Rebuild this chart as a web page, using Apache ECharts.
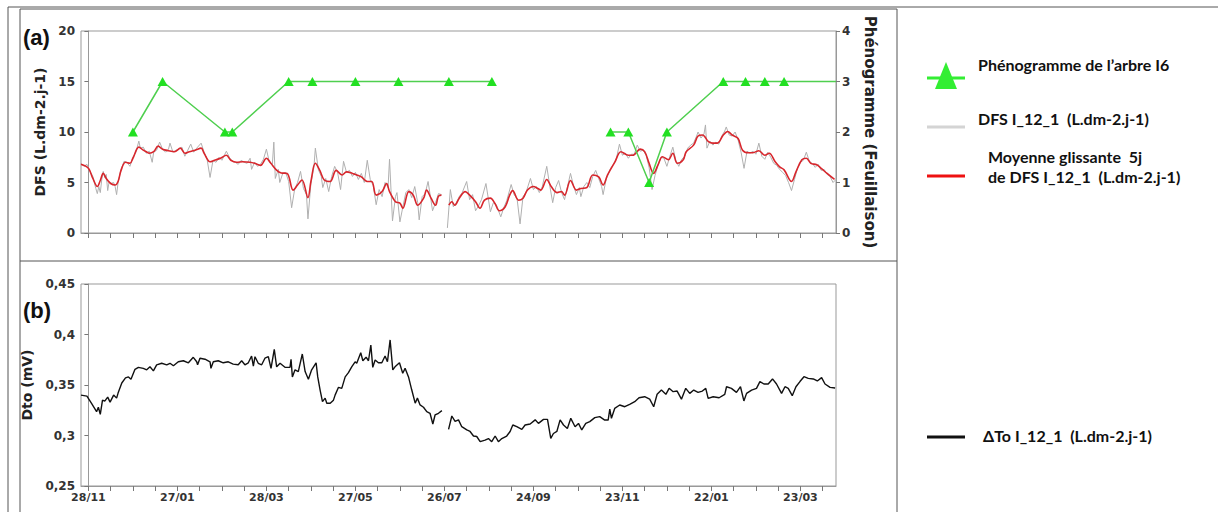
<!DOCTYPE html>
<html>
<head>
<meta charset="utf-8">
<script src="https://cdn.jsdelivr.net/npm/echarts@6/dist/echarts.min.js"></script>
<style>
  html, body { margin: 0; padding: 0; background: #fff; }
  #chart { width: 1218px; height: 512px; }
</style>
</head>
<body>
<div id="chart"></div>
<script>
// x = days since 28/11
const tickDays = [0, 15, 30, 45, 60, 75, 90, 105, 120, 135, 150, 165, 180, 195, 210, 225, 240, 255, 270, 285, 300, 315, 330, 345, 360, 375, 390, 405, 420, 435, 450, 465, 480, 495];
const labelDays = [0, 60, 120, 180, 240, 300, 360, 420, 480];
const dateLabels = ['28/11', '27/01', '28/03', '27/05', '26/07', '24/09', '23/11', '22/01', '23/03'];
const dfsTicks = ['0', '5', '10', '15', '20'];
const phenoTicks = ['0', '1', '2', '3', '4'];
const dtoTicks = ['0,25', '0,3', '0,35', '0,4', '0,45'];

// phénogramme (null = pas d'observation)
const phenoDays = [30, 50, 92, 97, 135, 151, 180, 209, 243, 272, null, 352, 364, 378, 390, 428, 443, 456, 469, 504];
const phenoStage = [2, 3, 2, 2, 3, 3, 3, 3, 3, 3, null, 2, 2, 1, 2, 3, 3, 3, 3, 3];

// DFS brut [jour, valeur]
const dfsRaw = [[-5,6.9],[-3,6.6],[-1,6.8],[1,6.1],[3,5.6],[5,4.4],[6,3.9],[7,4.6],[8,4.0],[9,5.3],[10,6.1],[11,5.5],[12,5.8],[13,4.2],[14,5.1],[15,4.9],[17,5.0],[18,4.6],[19,3.8],[20,5.0],[22,6.3],[24,7.1],[26,7.0],[28,6.6],[30,7.5],[32,8.0],[34,9.1],[35,8.4],[37,8.5],[39,7.9],[41,8.1],[43,7.0],[44,8.0],[46,8.2],[48,9.0],[50,8.3],[52,8.0],[54,8.3],[55,8.9],[57,8.0],[59,8.2],[61,8.3],[63,8.5],[65,7.6],[67,8.2],[69,8.8],[71,8.0],[73,8.4],[76,8.9],[78,8.0],[80,7.3],[82,5.5],[84,7.2],[86,7.0],[88,7.5],[90,7.2],[93,8.1],[95,7.5],[97,7.1],[99,7.0],[101,6.8],[103,7.2],[105,7.0],[107,6.9],[109,7.4],[110,6.3],[112,7.0],[114,6.6],[116,6.8],[118,7.3],[120,8.3],[122,7.0],[124,6.8],[125,9.0],[126,5.4],[128,6.3],[129,5.0],[131,5.9],[133,6.0],[135,5.1],[137,2.5],[139,4.3],[141,5.0],[143,6.1],[145,4.4],[147,3.8],[148,1.4],[150,4.9],[152,6.5],[153,8.4],[155,6.3],[157,5.6],[158,4.5],[160,5.4],[162,4.1],[164,5.6],[166,6.6],[168,6.0],[170,4.3],[172,7.1],[174,6.0],[176,6.2],[178,5.6],[180,6.0],[182,5.3],[184,5.9],[186,5.0],[188,7.2],[190,5.3],[192,4.7],[194,2.8],[196,4.3],[198,3.6],[200,5.0],[202,4.5],[203,7.3],[205,1.2],[207,3.6],[208,4.0],[210,1.1],[212,2.6],[214,4.0],[216,4.3],[218,3.5],[220,4.6],[222,3.0],[223,1.3],[225,3.6],[227,3.9],[229,5.1],[231,3.2],[232,2.2],[234,3.0],[236,3.9],[238,3.8],[240,'-'],[242,0.5],[244,4.3],[246,2.6],[248,3.0],[250,3.6],[252,4.0],[255,5.1],[257,3.3],[259,3.8],[261,2.2],[263,2.7],[265,3.3],[268,4.9],[271,2.1],[273,3.0],[275,2.8],[278,1.6],[280,2.5],[282,3.2],[285,4.8],[287,3.8],[289,3.4],[291,0.9],[293,3.6],[295,4.0],[298,5.4],[300,4.3],[302,4.6],[304,4.0],[306,4.6],[309,6.6],[311,4.7],[313,3.0],[315,4.5],[317,5.2],[319,4.0],[321,3.3],[323,4.6],[325,5.9],[327,4.7],[329,3.8],[331,4.5],[332,3.6],[334,4.6],[336,5.0],[338,4.5],[340,5.6],[342,6.2],[344,5.4],[346,4.6],[347,3.8],[349,5.3],[352,6.4],[354,6.8],[356,7.4],[358,8.8],[360,7.7],[362,7.9],[364,7.4],[366,7.8],[368,7.8],[370,8.7],[372,8.1],[374,8.2],[376,7.7],[378,6.5],[380,4.3],[382,5.7],[384,6.7],[386,7.5],[388,7.4],[390,6.6],[392,7.6],[394,8.5],[396,7.2],[398,6.6],[400,7.3],[402,7.6],[404,8.4],[406,8.7],[408,8.9],[410,9.6],[411,10.0],[413,9.4],[415,9.8],[416,10.7],[417,8.4],[419,9.1],[421,8.7],[423,9.0],[425,8.8],[427,9.6],[429,10.1],[430,10.5],[432,9.7],[434,9.6],[436,10.0],[438,9.2],[440,8.0],[442,6.4],[444,8.1],[446,7.9],[448,8.1],[450,7.8],[452,8.9],[454,7.6],[456,7.3],[458,8.0],[460,7.5],[462,6.9],[464,6.7],[466,6.3],[468,6.0],[470,5.7],[472,5.0],[474,4.2],[476,5.3],[478,6.4],[480,7.0],[482,7.2],[484,8.0],[486,7.1],[488,6.9],[490,6.5],[492,6.8],[494,6.2],[496,6.3],[498,5.8],[500,5.6],[502,5.0],[504,5.3]];

// moyenne glissante 5j
const dfsMean = [[-5,6.8],[0,6.4],[3,5.4],[6,4.6],[8,5.2],[10,5.9],[12,5.4],[15,4.9],[18,4.75],[20,5.1],[22,6.2],[25,7.0],[28,6.9],[30,7.4],[34,8.5],[37,8.2],[39,8.05],[41,7.9],[44,8.05],[47,8.6],[50,8.3],[54,8.15],[58,8.05],[62,8.4],[65,7.9],[68,8.05],[72,8.2],[76,8.4],[78,7.9],[82,7.05],[85,7.2],[89,7.4],[93,7.7],[96,7.2],[100,7.0],[104,7.05],[109,7.0],[112,6.9],[116,6.7],[120,7.4],[123,6.9],[127,6.2],[130,5.95],[134,5.9],[138,4.25],[141,4.75],[144,5.25],[148,3.5],[150,5.1],[153,6.9],[156,6.2],[159,5.25],[163,5.1],[167,6.2],[171,5.75],[174,6.05],[178,5.9],[181,5.75],[184,5.55],[188,5.1],[191,5.1],[194,3.75],[198,4.1],[201,4.9],[203,4.1],[207,3.1],[210,2.95],[212,2.45],[216,4.1],[219,3.75],[222,2.75],[226,3.45],[228,4.25],[231,3.45],[234,2.75],[236,3.65],[238,3.75],[240,'-'],[243,2.75],[245,3.1],[247,2.75],[250,3.45],[254,4.1],[257,3.75],[261,3.1],[264,2.45],[267,3.25],[271,3.45],[274,2.95],[277,2.2],[281,2.6],[284,3.75],[286,4.2],[290,3.25],[293,3.45],[296,4.25],[300,4.6],[303,4.4],[305,4.25],[309,5.3],[312,4.6],[316,4.0],[319,4.1],[321,3.75],[325,5.2],[329,4.25],[332,4.4],[336,4.5],[340,5.75],[344,5.55],[347,4.75],[350,5.75],[355,7.05],[359,8.05],[364,7.7],[367,7.7],[372,8.3],[375,8.05],[378,6.9],[381,5.9],[384,6.75],[387,7.55],[391,7.25],[394,7.9],[397,6.9],[401,7.25],[403,8.05],[408,8.7],[411,9.6],[414,9.7],[418,9.05],[421,8.9],[424,8.9],[428,9.7],[431,10.05],[434,9.7],[438,9.35],[441,8.2],[445,7.95],[448,7.95],[452,8.15],[456,7.7],[459,7.9],[463,7.05],[466,6.55],[469,6.25],[474,5.1],[477,6.05],[481,7.25],[484,7.4],[487,6.9],[491,6.75],[494,6.4],[498,5.9],[503,5.3]];

// ΔTo (mV)
const dto = [[-5,0.340],[-1,0.339],[2,0.332],[5.5,0.3236],[6.7,0.328],[8,0.321],[9.5,0.335],[11,0.334],[13,0.338],[14.6,0.333],[17,0.340],[19,0.337],[20,0.342],[22.5,0.352],[25,0.357],[27,0.358],[28.7,0.3557],[31.4,0.3655],[33.7,0.3675],[37,0.3665],[39.3,0.365],[41.5,0.368],[43.8,0.364],[46,0.370],[49.4,0.3715],[52.8,0.370],[55,0.3715],[57.3,0.369],[60.6,0.373],[64,0.374],[67.4,0.372],[70.7,0.3774],[73,0.373],[73.6,0.370],[75.2,0.3765],[78.6,0.3755],[82,0.373],[82.6,0.3665],[84.2,0.373],[87.5,0.374],[90.9,0.372],[94.3,0.373],[97.6,0.3707],[101,0.370],[103.3,0.374],[105.5,0.370],[107.8,0.372],[110,0.3787],[111.2,0.3688],[112.3,0.378],[114.5,0.3715],[116.8,0.370],[119,0.3765],[121.3,0.378],[123.1,0.3665],[125.3,0.3853],[126.9,0.368],[129.2,0.3715],[132.5,0.3675],[135.9,0.3675],[136.6,0.3755],[137.5,0.358],[139.3,0.365],[141.5,0.3633],[144.2,0.3807],[146.1,0.3633],[148.3,0.3557],[150.5,0.365],[153.5,0.372],[154.6,0.358],[156.2,0.345],[157.8,0.3335],[159.6,0.337],[160.7,0.332],[163,0.332],[165.2,0.335],[166.3,0.340],[168.6,0.3477],[170.8,0.3467],[173.1,0.358],[175.3,0.3622],[177.5,0.368],[179.8,0.373],[180.9,0.3715],[183.6,0.382],[185,0.374],[187.2,0.3775],[188.8,0.374],[190.4,0.3896],[191.7,0.3675],[193.3,0.3747],[195.5,0.372],[197.8,0.372],[200,0.3787],[201.6,0.373],[203.4,0.3946],[205.2,0.365],[206.7,0.368],[209.7,0.372],[211.9,0.3616],[213.5,0.3665],[215.8,0.358],[218,0.345],[220.3,0.332],[221.8,0.337],[223.6,0.3303],[225.9,0.328],[228.1,0.3236],[230.3,0.322],[232.2,0.3114],[233.7,0.3203],[236,0.322],[238.3,0.3246],[240,'-'],[242.8,0.306],[245,0.3193],[247.2,0.314],[249.5,0.3155],[251.7,0.3087],[255.1,0.3055],[257.3,0.304],[259.6,0.2995],[261.8,0.299],[264.1,0.2939],[267.4,0.2955],[269.7,0.297],[271.9,0.2939],[274.2,0.2995],[276.4,0.2939],[278.7,0.297],[282,0.2995],[284.3,0.304],[286.1,0.3104],[288.8,0.3087],[292.2,0.306],[294.4,0.3104],[297.8,0.3114],[301.2,0.3155],[303.4,0.312],[306.8,0.316],[309.5,0.316],[311.7,0.2972],[313.5,0.302],[315.8,0.304],[318,0.3155],[320.3,0.3104],[322.9,0.307],[325.2,0.317],[328.1,0.3087],[330.4,0.312],[332.6,0.3055],[335.3,0.312],[338,0.3137],[341.4,0.3177],[344.7,0.3187],[348.1,0.3153],[350.4,0.3153],[351.5,0.3262],[352.6,0.317],[354.8,0.3268],[358.2,0.3302],[361.6,0.3285],[364.9,0.3308],[368.3,0.3335],[371.2,0.3374],[375,0.3384],[378.4,0.336],[381.1,0.3285],[383.4,0.3408],[386.3,0.345],[389.3,0.3408],[391.5,0.3467],[394.2,0.3434],[396.9,0.344],[399.8,0.336],[402.7,0.3467],[405.4,0.3417],[408.1,0.345],[411,0.3427],[413.9,0.344],[416.2,0.3467],[417.8,0.3368],[421.2,0.3384],[425.2,0.3374],[429,0.3408],[430.2,0.3483],[433.5,0.3467],[436.9,0.3427],[439.6,0.3483],[441.9,0.3342],[443.7,0.3417],[447.1,0.345],[450.4,0.3467],[452.7,0.3534],[455.4,0.351],[458.3,0.351],[461.2,0.356],[463.9,0.351],[467.3,0.3417],[469.6,0.3483],[471.8,0.3467],[474.5,0.3394],[477,0.3483],[479.7,0.3534],[482.4,0.3582],[485.3,0.3566],[488.7,0.356],[491.4,0.354],[494.3,0.3573],[496.6,0.351],[500,0.3477],[503.4,0.347]];

const phenoData = phenoDays.map(function (d, i) {
  if (d === null) return [240, '-'];
  if (i === phenoDays.length - 1) return { value: [d, phenoStage[i]], symbol: 'none' };
  return [d, phenoStage[i]];
});

const chart = echarts.init(document.getElementById('chart'), null, { renderer: 'svg' });

const labelFont = { fontFamily: 'DejaVu Sans', fontWeight: 'bold', fontSize: 11, color: '#333' };
const yLabelFont = { fontFamily: 'DejaVu Sans', fontWeight: 'bold', fontSize: 12, color: '#333' };
const nameFont = { fontFamily: 'DejaVu Sans', fontWeight: 'bold', fontSize: 14, color: '#222' };
const legendFont = { fontFamily: 'Lato', fontWeight: 'bold', fontSize: 16, fill: '#111' };
const frame = { stroke: '#555', lineWidth: 1 };

function xAxis(grid, withLabels) {
  return {
    type: 'value', gridIndex: grid, min: -5, max: 504,
    axisLine: { lineStyle: { color: '#999' } },
    axisTick: { customValues: tickDays, length: 5, lineStyle: { color: '#777' } },
    axisLabel: withLabels ? Object.assign({
      customValues: labelDays, margin: 6,
      formatter: function (v) { return dateLabels[labelDays.indexOf(v)]; }
    }, labelFont) : { show: false },
    splitLine: { show: false }
  };
}

chart.setOption({
  animation: false,
  backgroundColor: '#fff',
  grid: [
    { left: 81, right: 382, top: 31, height: 202, show: true, borderColor: '#999', borderWidth: 1 },
    { left: 81, right: 382, top: 284, height: 202, show: true, borderColor: '#999', borderWidth: 1 }
  ],
  xAxis: [xAxis(0, false), xAxis(1, true)],
  yAxis: [
    {
      type: 'value', gridIndex: 0, min: 0, max: 20, interval: 5,
      name: 'DFS (L.dm-2.j-1)', nameLocation: 'middle', nameGap: 33, nameTextStyle: nameFont,
      axisLine: { show: true, lineStyle: { color: '#999' } },
      axisTick: { show: true, length: 4, lineStyle: { color: '#777' } },
      axisLabel: Object.assign({ margin: 6, formatter: function (v, i) { return dfsTicks[i]; } }, yLabelFont),
      splitLine: { show: false }
    },
    {
      type: 'value', gridIndex: 0, position: 'right', min: 0, max: 4, interval: 1,
      name: 'Phénogramme (Feuillaison)', nameLocation: 'middle', nameGap: 26, nameRotate: -90,
      nameTextStyle: Object.assign({}, nameFont, { fontSize: 15 }),
      axisLine: { show: true, lineStyle: { color: '#999' } },
      axisTick: { show: true, length: 4, lineStyle: { color: '#777' } },
      axisLabel: Object.assign({ margin: 6, formatter: function (v, i) { return phenoTicks[i]; } }, yLabelFont),
      splitLine: { show: false }
    },
    {
      type: 'value', gridIndex: 1, min: 0.25, max: 0.45, interval: 0.05,
      name: 'Dto (mV)', nameLocation: 'middle', nameGap: 46, nameTextStyle: nameFont,
      axisLine: { show: true, lineStyle: { color: '#999' } },
      axisTick: { show: true, length: 4, lineStyle: { color: '#777' } },
      axisLabel: Object.assign({ margin: 6, formatter: function (v, i) { return dtoTicks[i]; } }, yLabelFont),
      splitLine: { show: false }
    }
  ],
  series: [
    {
      name: 'DFS I_12_1', type: 'line', xAxisIndex: 0, yAxisIndex: 0, data: dfsRaw,
      showSymbol: false, lineStyle: { color: '#b0b0b0', width: 1 }, z: 1
    },
    {
      name: 'Moyenne glissante 5j', type: 'line', xAxisIndex: 0, yAxisIndex: 0, data: dfsMean,
      showSymbol: false, smooth: 0.35, lineStyle: { color: '#d8262c', width: 1.6 }, z: 2
    },
    {
      name: 'Phénogramme', type: 'line', xAxisIndex: 0, yAxisIndex: 1, data: phenoData,
      symbol: 'triangle', symbolSize: [10, 9],
      itemStyle: { color: '#22e022' }, lineStyle: { color: '#4fcf4f', width: 1.5 }, z: 3
    },
    {
      name: 'ΔTo I_12_1', type: 'line', xAxisIndex: 1, yAxisIndex: 2, data: dto,
      showSymbol: false, lineStyle: { color: '#111', width: 1.4 }
    }
  ],
  graphic: [
    { type: 'line', shape: { x1: 8, y1: 7, x2: 1218, y2: 7 }, style: frame },
    { type: 'line', shape: { x1: 8, y1: 7, x2: 8, y2: 512 }, style: frame },
    { type: 'line', shape: { x1: 20, y1: 9, x2: 897, y2: 9 }, style: frame },
    { type: 'line', shape: { x1: 20, y1: 9, x2: 20, y2: 512 }, style: frame },
    { type: 'line', shape: { x1: 897, y1: 9, x2: 897, y2: 512 }, style: frame },
    { type: 'line', shape: { x1: 20, y1: 261, x2: 897, y2: 261 }, style: frame },
    { type: 'text', left: 23, top: 26, style: { text: '(a)', font: 'bold 22px "Liberation Sans"', fill: '#111' } },
    { type: 'text', left: 23, top: 299, style: { text: '(b)', font: 'bold 22px "Liberation Sans"', fill: '#111' } },
    // légende
    { type: 'line', shape: { x1: 927, y1: 78, x2: 965, y2: 78 }, style: { stroke: '#33ee33', lineWidth: 3 } },
    { type: 'polygon', shape: { points: [[946, 62], [935, 89], [957, 89]] }, style: { fill: '#33ee33' } },
    { type: 'text', left: 978, top: 56, style: Object.assign({ text: 'Phénogramme de l’arbre I6' }, legendFont) },
    { type: 'line', shape: { x1: 927, y1: 127, x2: 965, y2: 127 }, style: { stroke: '#d4d4d4', lineWidth: 3 } },
    { type: 'text', left: 978, top: 110, style: Object.assign({ text: 'DFS I_12_1  (L.dm-2.j-1)' }, legendFont) },
    { type: 'line', shape: { x1: 927, y1: 176, x2: 965, y2: 176 }, style: { stroke: '#ee1111', lineWidth: 3 } },
    { type: 'text', left: 988, top: 148, style: Object.assign({ text: 'Moyenne glissante  5j' }, legendFont) },
    { type: 'text', left: 988, top: 168, style: Object.assign({ text: 'de DFS I_12_1  (L.dm-2.j-1)' }, legendFont) },
    { type: 'line', shape: { x1: 927, y1: 437, x2: 965, y2: 437 }, style: { stroke: '#111', lineWidth: 3 } },
    { type: 'text', left: 983, top: 427, style: Object.assign({ text: 'ΔTo I_12_1  (L.dm-2.j-1)' }, legendFont) }
  ]
});
</script>
</body>
</html>
